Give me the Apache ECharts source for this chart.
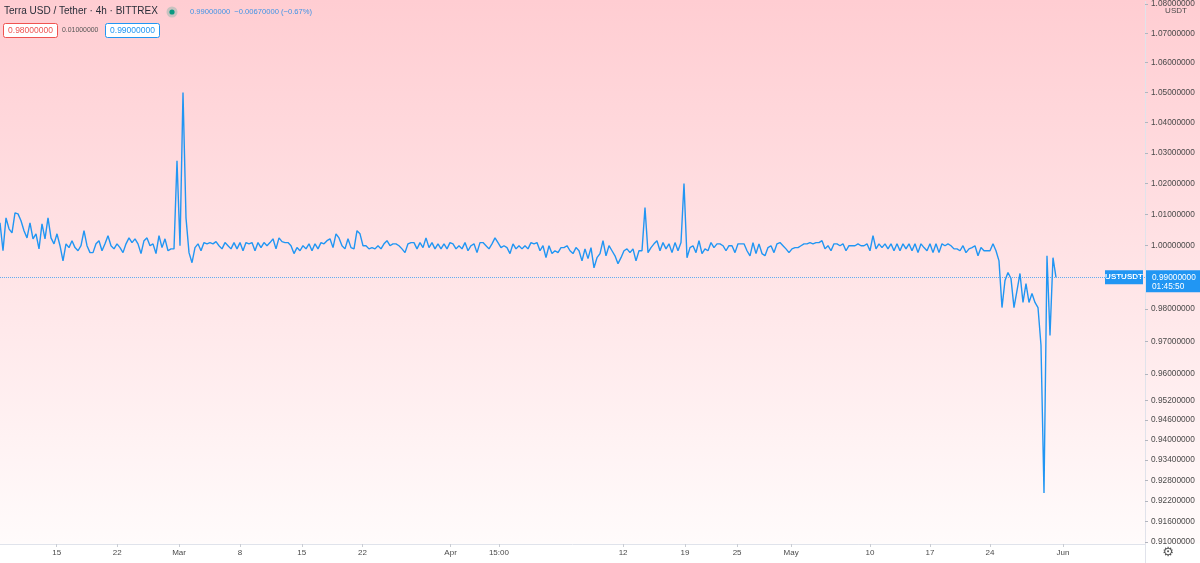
<!DOCTYPE html>
<html><head><meta charset="utf-8">
<script src="https://cdn.jsdelivr.net/npm/echarts@6/dist/echarts.min.js"></script>
<style>html,body{margin:0;padding:0;background:#fff}#c{width:1200px;height:563px}</style>
</head><body><div id="c"></div>
<script>
// UST/USDT closes, one value per slot (slot ≈ one third of a day-width on the bar-index axis)
const prices = [
1.0073,0.9984,1.0089,1.0054,1.0041,1.0105,1.0102,1.0080,1.0048,1.0025,
1.0073,1.0022,1.0038,0.9990,1.0070,1.0022,1.0089,1.0025,1.0006,1.0038,
1.0000,0.9952,1.0006,0.9994,1.0016,0.9994,0.9984,1.0000,1.0048,1.0000,
0.9978,0.9978,1.0006,1.0016,0.9984,1.0006,1.0032,1.0000,0.9990,1.0006,
0.9994,0.9978,1.0006,1.0025,1.0010,1.0022,1.0006,0.9975,1.0016,1.0025,
1.0000,1.0006,0.9975,1.0032,0.9994,1.0022,0.9984,0.9990,0.9990,1.0274,
1.0000,1.0500,1.0089,0.9978,0.9946,0.9994,1.0006,0.9984,1.0010,1.0006,
1.0010,1.0006,1.0013,1.0000,0.9990,1.0010,1.0000,0.9990,1.0010,0.9990,
1.0010,0.9984,1.0010,1.0006,1.0010,0.9984,1.0010,0.9994,1.0010,1.0000,
1.0010,1.0022,0.9990,1.0025,1.0013,1.0010,1.0010,1.0000,0.9975,0.9994,
0.9984,1.0000,0.9990,1.0006,0.9984,1.0006,0.9990,1.0010,1.0006,1.0016,
1.0022,0.9994,1.0038,1.0025,1.0000,0.9990,1.0022,0.9994,0.9990,1.0048,
1.0038,1.0000,1.0000,0.9990,0.9994,0.9990,1.0000,0.9990,1.0006,1.0016,
1.0000,1.0006,1.0006,1.0000,0.9990,0.9978,1.0006,1.0010,1.0010,0.9990,
1.0010,0.9994,1.0025,0.9994,1.0010,0.9990,1.0006,0.9990,1.0006,0.9990,
1.0010,1.0006,0.9990,1.0000,0.9990,1.0010,0.9984,1.0000,1.0006,0.9978,
1.0010,1.0010,1.0000,0.9990,1.0006,1.0025,1.0010,0.9994,1.0000,0.9994,
0.9975,1.0006,0.9990,1.0000,0.9990,1.0000,0.9990,1.0010,1.0006,1.0010,
0.9984,1.0000,0.9962,1.0000,0.9975,0.9984,0.9978,0.9994,0.9994,1.0000,
0.9984,0.9975,0.9994,0.9984,0.9952,0.9990,0.9959,0.9994,0.9930,0.9962,
0.9975,1.0016,0.9968,1.0000,0.9984,0.9968,0.9943,0.9962,0.9984,0.9990,
0.9978,0.9990,0.9952,0.9984,0.9984,1.0122,0.9978,0.9994,1.0006,1.0016,
0.9984,1.0010,0.9990,1.0006,0.9978,1.0010,0.9984,1.0010,1.0200,0.9962,
0.9994,1.0000,0.9978,1.0016,0.9975,0.9990,0.9984,1.0010,0.9994,1.0006,
1.0006,1.0000,0.9984,1.0000,1.0000,0.9978,1.0006,1.0006,1.0006,0.9984,
0.9968,1.0010,0.9975,1.0006,0.9975,0.9968,0.9994,1.0000,0.9978,1.0006,
1.0010,1.0000,0.9990,0.9978,0.9990,0.9994,0.9994,1.0000,1.0006,1.0006,
1.0010,1.0006,1.0010,1.0010,1.0016,0.9990,1.0000,0.9984,1.0006,1.0006,
1.0000,1.0006,0.9984,1.0000,1.0000,1.0000,1.0006,1.0000,1.0000,1.0006,
0.9984,1.0032,0.9990,1.0006,0.9994,1.0006,0.9990,1.0006,0.9984,1.0006,
0.9984,1.0006,0.9990,1.0006,0.9984,1.0006,0.9978,1.0006,0.9994,0.9984,
1.0006,0.9978,1.0006,0.9978,1.0006,1.0000,1.0006,1.0000,0.9990,0.9990,
0.9984,1.0000,0.9978,0.9990,0.9994,1.0000,0.9968,0.9994,0.9984,0.9984,
0.9984,1.0006,0.9984,0.9952,0.9805,0.9890,0.9915,0.9896,0.9805,0.9858,
0.9912,0.9821,0.9880,0.9821,0.9849,0.9821,0.9805,0.9688,0.9243,0.9968,
0.9718,0.9962,0.9900
];
const tickSlots  = [18.9, 39.1, 59.7, 80, 100.6, 120.8, 150.2, 166.3, 207.7, 228.3, 245.7, 263.7, 290, 310, 330, 354.3];
const tickLabels = ['15','22','Mar','8','15','22','Apr','15:00','12','19','25','May','10','17','24','Jun'];
const priceTicks = [1.08,1.07,1.06,1.05,1.04,1.03,1.02,1.01,1.00,0.98,0.97,0.96,0.952,0.946,0.94,0.934,0.928,0.922,0.916,0.91];
const lastPrice = 0.99;

const FONT = "'Liberation Sans', Arial, sans-serif";
const chart = echarts.init(document.getElementById('c'), null, {renderer: 'canvas'});

function slotLabel(v) {
  for (let k = 0; k < tickSlots.length; k++) if (Math.abs(tickSlots[k] - v) < 0.01) return tickLabels[k];
  return '';
}

chart.setOption({
  animation: false,
  backgroundColor: new echarts.graphic.LinearGradient(0, 0, 0, 1, [
    {offset: 0, color: '#ffcdd2'},
    {offset: 0.965, color: '#fffbfb'},
    {offset: 0.967, color: '#ffffff'},
    {offset: 1, color: '#ffffff'}
  ]),
  grid: {left: 0, right: 55, top: 0, bottom: 19},
  xAxis: {
    type: 'value', min: 0, max: 381.67,
    axisLine: {show: true, onZero: false, lineStyle: {color: '#e0e3eb'}},
    axisTick: {show: true, length: 3, customValues: tickSlots, lineStyle: {color: '#c9ccd3'}},
    axisLabel: {customValues: tickSlots, formatter: slotLabel, color: '#4a4a4a', fontSize: 8, fontFamily: FONT, margin: 5},
    splitLine: {show: false}
  },
  yAxis: {
    type: 'log', logBase: 10, position: 'right', min: 0.9094, max: 1.0809,
    axisLine: {show: true, onZero: false, lineStyle: {color: '#e0e3eb'}},
    axisTick: {show: true, length: 3, customValues: priceTicks, lineStyle: {color: '#b2b5be'}},
    axisLabel: {customValues: priceTicks, formatter: v => Number(v).toFixed(8), color: '#4a4a4a', fontSize: 8.3, fontFamily: FONT, margin: 6},
    splitLine: {show: false}
  },
  series: [{
    type: 'line',
    data: prices.map((p, i) => [i, p]),
    showSymbol: false,
    lineStyle: {color: '#2196f3', width: 1.4},
    markLine: {
      silent: true, symbol: ['none', 'none'],
      label: {show: false},
      lineStyle: {type: 'dotted', color: 'rgba(33,150,243,0.7)', width: 1},
      data: [{yAxis: lastPrice}]
    }
  }]
});

const y99 = chart.convertToPixel({yAxisIndex: 0}, lastPrice);
chart.setOption({
  graphic: [
    {type: 'text', left: 4, top: 6, style: {text: 'Terra USD / Tether · 4h · BITTREX', fill: '#2a2e39', font: '10px ' + FONT}},
    {type: 'circle', shape: {cx: 172, cy: 12, r: 5.5}, style: {fill: 'rgba(8,153,129,0.22)'}},
    {type: 'circle', shape: {cx: 172, cy: 12, r: 2.6}, style: {fill: '#089981'}},
    {type: 'text', left: 190, top: 8, style: {text: '0.99000000  \u22120.00670000 (\u22120.67%)', fill: '#3f93e6', font: '7.6px ' + FONT}},
    {type: 'rect', shape: {x: 3.5, y: 23.5, width: 54, height: 14, r: 2}, style: {fill: '#ffffff', stroke: '#ef5350', lineWidth: 1}},
    {type: 'text', x: 30.5, y: 30.5, style: {text: '0.98000000', fill: '#ef5350', font: '8.5px ' + FONT, align: 'center', verticalAlign: 'middle'}},
    {type: 'text', x: 62, y: 30.5, style: {text: '0.01000000', fill: '#555555', font: '6.9px ' + FONT, verticalAlign: 'middle'}},
    {type: 'rect', shape: {x: 105.5, y: 23.5, width: 54, height: 14, r: 2}, style: {fill: '#ffffff', stroke: '#2196f3', lineWidth: 1}},
    {type: 'text', x: 132.5, y: 30.5, style: {text: '0.99000000', fill: '#2196f3', font: '8.5px ' + FONT, align: 'center', verticalAlign: 'middle'}},
    {type: 'text', x: 1176, y: 11, style: {text: 'USDT', fill: '#4a4a4a', font: '8px ' + FONT, align: 'center', verticalAlign: 'middle', backgroundColor: '#ffcfd4', padding: [1, 2]}},
    {type: 'rect', shape: {x: 1105, y: y99 - 7, width: 38, height: 14}, style: {fill: '#2196f3'}},
    {type: 'text', x: 1124, y: y99, style: {text: 'USTUSDT', fill: '#ffffff', font: 'bold 8px ' + FONT, align: 'center', verticalAlign: 'middle'}},
    {type: 'rect', shape: {x: 1146, y: y99 - 7, width: 54, height: 22}, style: {fill: '#2196f3'}},
    {type: 'text', x: 1152, y: y99, style: {text: '0.99000000', fill: '#ffffff', font: '8.3px ' + FONT, verticalAlign: 'middle'}},
    {type: 'text', x: 1152, y: y99 + 9, style: {text: '01:45:50', fill: '#ffffff', font: '8.3px ' + FONT, verticalAlign: 'middle'}},
    {type: 'line', shape: {x1: 1145.5, y1: 544, x2: 1145.5, y2: 563}, style: {stroke: '#e0e3eb'}},
    {type: 'text', x: 1168, y: 553, style: {text: '\u2699', fill: '#555555', font: '13px DejaVu Sans', align: 'center', verticalAlign: 'middle'}}
  ]
});
</script>
</body></html>
